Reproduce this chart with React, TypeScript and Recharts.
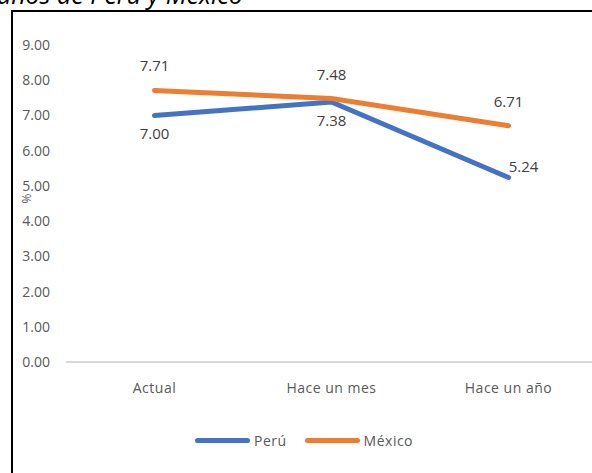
import React from "react";
import {
  LineChart,
  Line,
  XAxis,
  YAxis,
  Legend,
  LabelList,
} from "recharts";

const categories = ["Actual", "Hace un mes", "Hace un año"];
const peru = [7.0, 7.38, 5.24];
const mexico = [7.71, 7.48, 6.71];
const yTicks = [0, 1, 2, 3, 4, 5, 6, 7, 8, 9];

const data = categories.map((name, i) => ({
  name,
  Perú: peru[i],
  México: mexico[i],
}));

const FONT = "'Open Sans', sans-serif";
const BLUE = "#4472C4";
const ORANGE = "#ED7D31";

// Perú labels sit under the line, the last one goes up-right like the original
const PeruLabel = (props: any) => {
  const { x, y, value, index } = props;
  const last = index === data.length - 1;
  return (
    <text
      x={last ? x + 15 : x}
      y={last ? y - 5 : y + 24}
      textAnchor="middle"
      fill="#404040"
      fontSize={15}
      fontFamily={FONT}
    >
      {Number(value).toFixed(2)}
    </text>
  );
};

const LegendContent = () => (
  <div
    style={{
      display: "flex",
      alignItems: "center",
      fontFamily: FONT,
      fontSize: 14,
      color: "#595959",
      paddingLeft: 195,
    }}
  >
    <span
      style={{ width: 55, height: 5, borderRadius: 3, background: BLUE, display: "inline-block" }}
    />
    <span style={{ marginLeft: 4, marginRight: 18, letterSpacing: 0.5 }}>Perú</span>
    <span
      style={{ width: 55, height: 5, borderRadius: 3, background: ORANGE, display: "inline-block" }}
    />
    <span style={{ marginLeft: 4, letterSpacing: 0.5 }}>México</span>
  </div>
);

const App = () => {
  return (
    <div
      style={{
        position: "absolute",
        left: 0,
        top: 0,
        width: 592,
        height: 473,
        overflow: "hidden",
        background: "#fff",
      }}
    >
      {/* chart title, cut off at the top like in the source */}
      <div
        style={{
          position: "absolute",
          left: -3,
          top: -18,
          fontFamily: FONT,
          fontStyle: "italic",
          fontSize: 25,
          lineHeight: "25px",
          color: "#000",
          whiteSpace: "nowrap",
        }}
      >
        años de Perú y México
      </div>

      {/* frame */}
      <div
        style={{
          position: "absolute",
          left: 11,
          top: 10,
          width: 620,
          height: 500,
          border: "2px solid #000",
        }}
      />

      <div style={{ position: "absolute", left: 0, top: 0 }}>
        <LineChart
          width={700}
          height={520}
          data={data}
          margin={{ top: 45, right: 103, bottom: 109, left: 0 }}
        >
          <XAxis
            dataKey="name"
            axisLine={{ stroke: "#D9D9D9", strokeWidth: 2 }}
            tickLine={false}
            tickSize={0}
            tickMargin={21}
            height={30}
            padding={{ left: 0, right: 0 }}
            scale="band"
            tick={{ fill: "#595959", fontSize: 14, fontFamily: FONT, letterSpacing: 0.5 }}
          />
          <YAxis
            width={66}
            domain={[0, 9]}
            ticks={yTicks}
            interval={0}
            axisLine={false}
            tickLine={false}
            tickSize={0}
            tickMargin={16}
            tickFormatter={(v: number) => v.toFixed(2)}
            tick={{ fill: "#595959", fontSize: 14, fontFamily: FONT }}
            label={{
              value: "%",
              angle: -90,
              position: "insideLeft",
              offset: 27,
              fill: "#595959",
              fontSize: 12,
              fontFamily: FONT,
            }}
          />
          <Legend
            verticalAlign="bottom"
            content={<LegendContent />}
            wrapperStyle={{ top: 431, left: 0, width: 700, bottom: "auto" }}
          />
          <Line
            dataKey="Perú"
            stroke={BLUE}
            strokeWidth={5}
            strokeLinecap="round"
            dot={false}
            activeDot={false}
            isAnimationActive={false}
          >
            <LabelList dataKey="Perú" content={<PeruLabel />} />
          </Line>
          <Line
            dataKey="México"
            stroke={ORANGE}
            strokeWidth={5}
            strokeLinecap="round"
            dot={false}
            activeDot={false}
            isAnimationActive={false}
          >
            <LabelList
              dataKey="México"
              position="top"
              offset={19}
              fill="#404040"
              fontSize={15}
              fontFamily={FONT}
              formatter={(v: any) => Number(v).toFixed(2)}
            />
          </Line>
        </LineChart>
      </div>
    </div>
  );
};

export default App;
